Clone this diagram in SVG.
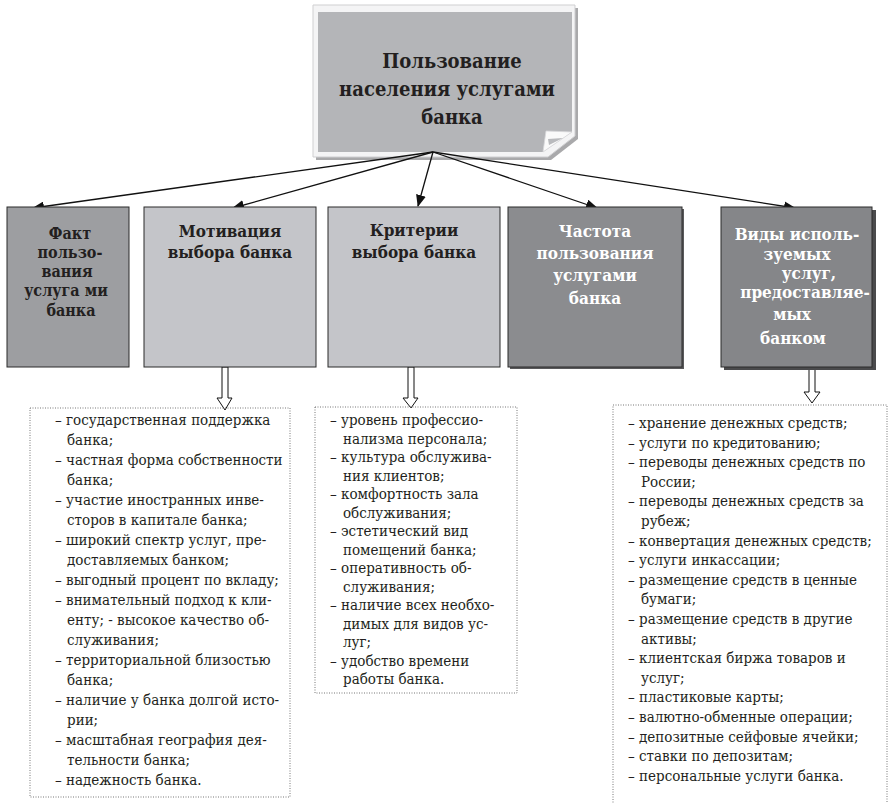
<svg xmlns="http://www.w3.org/2000/svg" width="890" height="803" viewBox="0 0 890 803">
<style>
text{font-family:"DejaVu Serif Condensed","DejaVu Serif",serif;font-stretch:condensed}
.lbl{font-weight:bold;font-size:17px;fill:#231f20;text-anchor:middle}
.sm{font-size:16px}
.wh{fill:#ffffff}
.ttl{font-weight:bold;font-size:20px;fill:#231f20;text-anchor:middle}
.lst{font-size:15px;fill:#231f20}
.box{stroke:#2b2b2b;stroke-width:1}
.dot{fill:none;stroke:#777;stroke-width:1;stroke-dasharray:1 1.5}
.con{stroke:#111;stroke-width:1.3;fill:none;marker-end:url(#ah)}
.blk{fill:#fff;stroke:#111;stroke-width:1}
</style>
<defs>
<marker id="ah" viewBox="0 0 12 10" refX="11" refY="5" markerWidth="12" markerHeight="10" markerUnits="userSpaceOnUse" orient="auto">
<path d="M0,0 L12,5 L0,10 Z" fill="#111"/>
</marker>
</defs>
<rect width="890" height="803" fill="#fff"/>

<g id="top">
<path d="M316,8 L578,8 L578,139 L551,160 L316,160 Z" fill="#a9a9ab"/>
<path d="M313,5 L575,5 L575,136 L548,157 L313,157 Z" fill="#f4f4f5" stroke="#cfcfd1" stroke-width="1"/>
<path d="M318,12 L572,12 L572,132 L543,152 L318,152 Z" fill="#b4b5b8"/>
<path d="M543,152 L546,131 L572,132 Z" fill="#fafafa" stroke="#d8d8da" stroke-width="0.8"/>
<path d="M548,139 L549,145 L563,138 Z" fill="#b9babd"/>
<text class="ttl" x="452" y="68">Пользование</text>
<text class="ttl" x="447" y="96">населения  услугами</text>
<text class="ttl" x="452" y="124">банка</text>
</g>

<g id="connectors">
<line class="con" x1="433" y1="152" x2="33" y2="208"/>
<line class="con" x1="433" y1="152" x2="233" y2="208"/>
<line class="con" x1="433" y1="152" x2="418" y2="206"/>
<line class="con" x1="433" y1="152" x2="597" y2="208"/>
<line class="con" x1="433" y1="152" x2="795" y2="208"/>
<path class="blk" d="M222,367 L228,367 L228,398 L232,398 L225,410 L217,398 L222,398 Z"/>
<path class="blk" d="M408,367 L414,367 L414,398 L418,398 L411,408 L403,398 L408,398 Z"/>
<path class="blk" d="M809,367 L815,367 L815,392 L820,392 L812,403 L804,392 L809,392 Z"/>
</g>

<g id="n1">
<rect class="box" x="7" y="207" width="122" height="160" fill="#9d9ea1"/>
<text class="lbl sm" x="70" y="239">Факт</text>
<text class="lbl sm" x="70" y="258">пользо-</text>
<text class="lbl sm" x="67" y="277">вания</text>
<text class="lbl sm" x="66" y="296">услуга ми</text>
<text class="lbl sm" x="71" y="316">банка</text>
</g>

<g id="n2">
<rect class="box" x="144" y="207" width="172" height="160" fill="#c4c5c9"/>
<text class="lbl" x="230" y="237">Мотивация</text>
<text class="lbl" x="230" y="258">выбора банка</text>
</g>

<g id="n3">
<rect class="box" x="328" y="207" width="172" height="160" fill="#c4c5c9"/>
<text class="lbl" x="414" y="236">Критерии</text>
<text class="lbl" x="414" y="258">выбора банка</text>
</g>

<g id="n4">
<rect x="510" y="209" width="174" height="160" fill="#5a5a5c"/>
<rect class="box" x="508" y="207" width="174" height="160" fill="#8b8c8f"/>
<text class="lbl wh" x="595" y="237">Частота</text>
<text class="lbl wh" x="595" y="259">пользования</text>
<text class="lbl wh" x="595" y="281">услугами</text>
<text class="lbl wh" x="595" y="304">банка</text>
</g>

<g id="n5">
<rect x="724" y="210" width="152" height="160" fill="#4a4a4c"/>
<rect class="box" x="721" y="207" width="151" height="160" fill="#858689"/>
<text class="lbl wh" x="797" y="240">Виды исполь-</text>
<text class="lbl wh" x="797" y="260">зуемых</text>
<text class="lbl wh" x="809" y="279">услуг,</text>
<text class="lbl wh" x="805" y="298">предоставляе-</text>
<text class="lbl wh" x="792" y="320">мых</text>
<text class="lbl wh" x="793" y="344">банком</text>
</g>

<g id="list1">
<rect class="dot" x="30" y="408" width="260" height="389"/>
<text class="lst" x="55" y="425">– государственная поддержка</text>
<text class="lst" x="67" y="445">банка;</text>
<text class="lst" x="55" y="465">– частная форма собственности</text>
<text class="lst" x="67" y="485">банка;</text>
<text class="lst" x="55" y="505">– участие иностранных инве-</text>
<text class="lst" x="67" y="525">сторов в капитале банка;</text>
<text class="lst" x="55" y="545">– широкий спектр услуг, пре-</text>
<text class="lst" x="67" y="565">доставляемых банком;</text>
<text class="lst" x="55" y="585">– выгодный процент по вкладу;</text>
<text class="lst" x="55" y="605">– внимательный подход к кли-</text>
<text class="lst" x="67" y="625">енту; - высокое качество об-</text>
<text class="lst" x="67" y="645">служивания;</text>
<text class="lst" x="55" y="665">– территориальной близостью</text>
<text class="lst" x="67" y="685">банка;</text>
<text class="lst" x="55" y="705">– наличие у банка долгой исто-</text>
<text class="lst" x="67" y="725">рии;</text>
<text class="lst" x="55" y="745">– масштабная география дея-</text>
<text class="lst" x="67" y="765">тельности банка;</text>
<text class="lst" x="55" y="785">– надежность банка.</text>
</g>

<g id="list2">
<rect class="dot" x="315" y="407" width="202" height="286"/>
<text class="lst" x="330" y="425">– уровень профессио-</text>
<text class="lst" x="343" y="443.5">нализма персонала;</text>
<text class="lst" x="330" y="462">– культура обслужива-</text>
<text class="lst" x="343" y="480.5">ния клиентов;</text>
<text class="lst" x="330" y="499">– комфортность зала</text>
<text class="lst" x="343" y="517.5">обслуживания;</text>
<text class="lst" x="330" y="536">– эстетический вид</text>
<text class="lst" x="343" y="554.5">помещений банка;</text>
<text class="lst" x="330" y="573">– оперативность об-</text>
<text class="lst" x="343" y="591.5">служивания;</text>
<text class="lst" x="330" y="610">– наличие всех необхо-</text>
<text class="lst" x="343" y="628.5">димых для видов ус-</text>
<text class="lst" x="343" y="647">луг;</text>
<text class="lst" x="330" y="665.5">– удобство времени</text>
<text class="lst" x="343" y="684">работы банка.</text>
</g>

<g id="list3">
<path class="dot" d="M613,810 L613,405 L887,405 L887,810"/>
<text class="lst" x="628" y="428">– хранение денежных средств;</text>
<text class="lst" x="628" y="447.6">– услуги по кредитованию;</text>
<text class="lst" x="628" y="467.2">– переводы денежных средств по</text>
<text class="lst" x="641" y="486.8">России;</text>
<text class="lst" x="628" y="506.4">– переводы денежных средств за</text>
<text class="lst" x="641" y="526">рубеж;</text>
<text class="lst" x="628" y="545.6">– конвертация денежных средств;</text>
<text class="lst" x="628" y="565.2">– услуги инкассации;</text>
<text class="lst" x="628" y="584.8">– размещение средств в ценные</text>
<text class="lst" x="641" y="604.4">бумаги;</text>
<text class="lst" x="628" y="624">– размещение средств в другие</text>
<text class="lst" x="641" y="643.6">активы;</text>
<text class="lst" x="628" y="663.2">– клиентская биржа товаров и</text>
<text class="lst" x="641" y="682.8">услуг;</text>
<text class="lst" x="628" y="702.4">– пластиковые карты;</text>
<text class="lst" x="628" y="722">– валютно-обменные операции;</text>
<text class="lst" x="628" y="741.6">– депозитные сейфовые ячейки;</text>
<text class="lst" x="628" y="761.2">– ставки по депозитам;</text>
<text class="lst" x="628" y="780.8">– персональные услуги банка.</text>
</g>
</svg>
